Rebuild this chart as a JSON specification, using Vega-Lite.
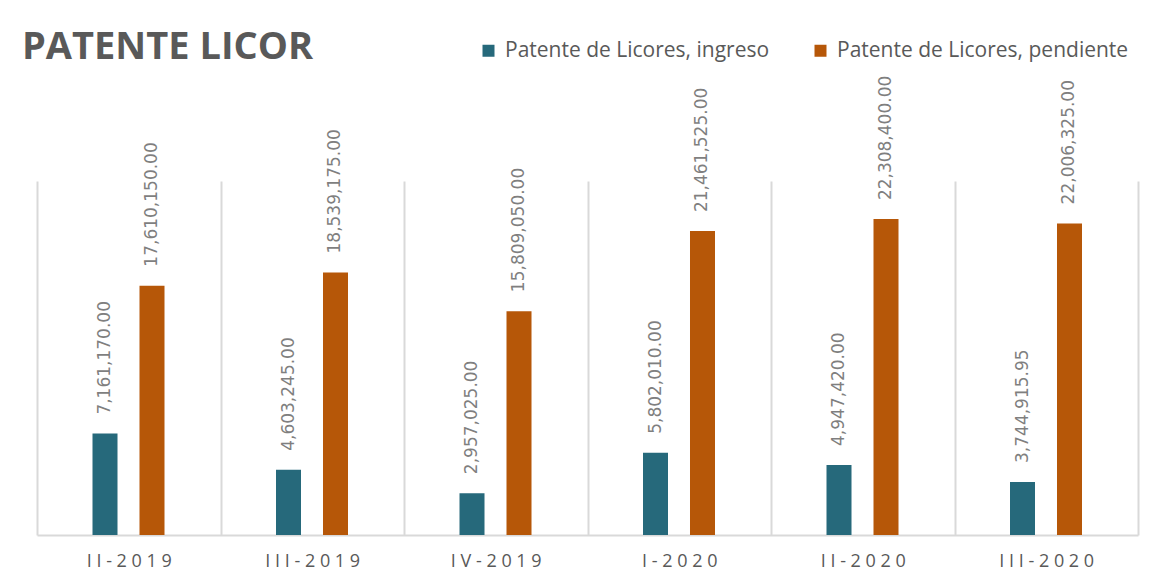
{
  "$schema": "https://vega.github.io/schema/vega-lite/v6.json",
  "width": 1101,
  "height": 354,
  "autosize": "none",
  "padding": {"left": 37, "top": 181, "right": 14, "bottom": 47},
  "background": "white",
  "title": {
    "text": "PATENTE LICOR",
    "anchor": "start",
    "frame": "group",
    "orient": "top",
    "offset": -27,
    "dx": -15,
    "font": "Open Sans",
    "fontSize": 38,
    "fontWeight": "bold",
    "color": "#595959"
  },
  "config": {
    "view": {"stroke": null},
    "font": "Open Sans"
  },
  "data": {
    "values": [
      {"periodo": "II-2019", "serie": "Patente de Licores, ingreso", "valor": 7161170.00},
      {"periodo": "II-2019", "serie": "Patente de Licores, pendiente", "valor": 17610150.00},
      {"periodo": "III-2019", "serie": "Patente de Licores, ingreso", "valor": 4603245.00},
      {"periodo": "III-2019", "serie": "Patente de Licores, pendiente", "valor": 18539175.00},
      {"periodo": "IV-2019", "serie": "Patente de Licores, ingreso", "valor": 2957025.00},
      {"periodo": "IV-2019", "serie": "Patente de Licores, pendiente", "valor": 15809050.00},
      {"periodo": "I-2020", "serie": "Patente de Licores, ingreso", "valor": 5802010.00},
      {"periodo": "I-2020", "serie": "Patente de Licores, pendiente", "valor": 21461525.00},
      {"periodo": "II-2020", "serie": "Patente de Licores, ingreso", "valor": 4947420.00},
      {"periodo": "II-2020", "serie": "Patente de Licores, pendiente", "valor": 22308400.00},
      {"periodo": "III-2020", "serie": "Patente de Licores, ingreso", "valor": 3744915.95},
      {"periodo": "III-2020", "serie": "Patente de Licores, pendiente", "valor": 22006325.00}
    ]
  },
  "encoding": {
    "x": {
      "field": "periodo",
      "type": "nominal",
      "sort": ["II-2019", "III-2019", "IV-2019", "I-2020", "II-2020", "III-2020"],
      "scale": {"paddingInner": 0, "paddingOuter": 0},
      "axis": {
        "title": null,
        "labelAngle": 0,
        "labelFont": "Open Sans",
        "labelFontSize": 18,
        "labelColor": "#595959",
        "labelPadding": 17,
        "labelExpr": "join(split(datum.label, ''), ' ')",
        "ticks": false,
        "tickBand": "extent",
        "grid": true,
        "gridColor": "#d9d9d9",
        "gridWidth": 2,
        "domainColor": "#d9d9d9",
        "domainWidth": 2
      }
    },
    "xOffset": {
      "field": "serie",
      "type": "nominal",
      "sort": ["Patente de Licores, ingreso", "Patente de Licores, pendiente"],
      "scale": {"paddingInner": 0.468, "paddingOuter": 0, "range": [55.5, 127.5]}
    },
    "y": {
      "field": "valor",
      "type": "quantitative",
      "scale": {"domain": [0, 25000000]},
      "axis": null
    }
  },
  "layer": [
    {
      "mark": {"type": "bar"},
      "encoding": {
        "color": {
          "field": "serie",
          "type": "nominal",
          "sort": ["Patente de Licores, ingreso", "Patente de Licores, pendiente"],
          "scale": {"range": ["#26697b", "#b65708"]},
          "legend": {
            "title": null,
            "orient": "none",
            "direction": "horizontal",
            "legendX": 441,
            "legendY": -141,
            "padding": 0,
            "symbolType": "square",
            "symbolSize": 144,
            "symbolStrokeWidth": 0,
            "labelFont": "Open Sans",
            "labelFontSize": 21,
            "labelColor": "#595959",
            "labelOffset": 6,
            "labelLimit": 0,
            "columnPadding": 40
          }
        }
      }
    },
    {
      "mark": {
        "type": "text",
        "angle": -90,
        "align": "left",
        "baseline": "middle",
        "dx": 19,
        "font": "DejaVu Sans",
        "fontSize": 17,
        "color": "#7f7f7f"
      },
      "encoding": {
        "text": {"field": "valor", "type": "quantitative", "format": ",.2f"}
      }
    }
  ]
}
